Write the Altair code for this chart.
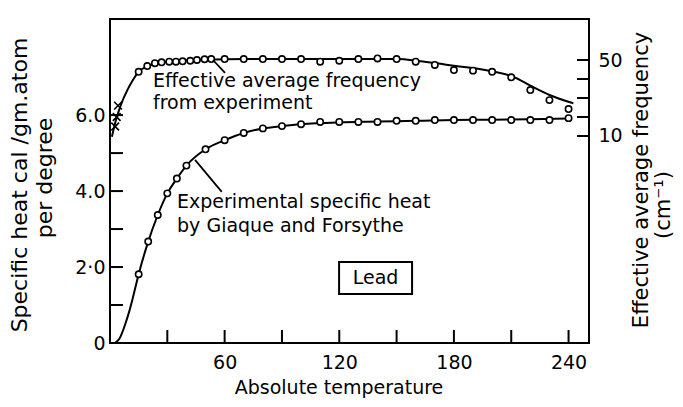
import altair as alt
import pandas as pd

# ---- data ----
# Experimental specific heat (cal / gm.atom / degree) vs absolute temperature
cp_T = [15, 20, 25, 30, 35, 40, 50, 60, 70, 80, 90, 100, 110, 120, 130, 140,
        150, 160, 170, 180, 190, 200, 210, 220, 230, 240]
cp_val = [1.81, 2.67, 3.37, 3.94, 4.33, 4.67, 5.10, 5.34, 5.53, 5.65, 5.71, 5.76,
          5.82, 5.82, 5.82, 5.82, 5.85, 5.85, 5.87, 5.87, 5.87, 5.87, 5.87, 5.87,
          5.87, 5.92]
# smooth curve drawn through the specific-heat points
cpfit_T = [2.5, 5, 8, 10, 12, 15, 20, 25, 30, 35, 40, 50, 60, 70, 80, 90, 100,
           120, 140, 160, 180, 200, 220, 240]
cpfit_val = [0.0, 0.12, 0.5, 0.82, 1.2, 1.81, 2.67, 3.37, 3.94, 4.33, 4.67, 5.10,
             5.34, 5.53, 5.65, 5.71, 5.76, 5.81, 5.83, 5.85, 5.87, 5.88, 5.89, 5.91]

# Effective average frequency (cm^-1) from experiment
fr_T = [15, 19.5, 23.5, 27, 31, 34.5, 38, 42, 45.5, 49.5, 53, 60, 70, 80, 90, 100,
        110, 120, 130, 140, 150, 160, 170, 180, 190, 200, 210, 220, 230, 240]
fr_val = [43.8, 46.8, 48.3, 48.8, 49.1, 49.1, 49.3, 49.6, 50.0, 50.4, 50.5, 50.5,
          50.5, 50.5, 50.5, 50.5, 49.1, 49.6, 50.5, 50.8, 50.5, 49.1, 47.4, 44.7,
          44.4, 43.8, 40.9, 34.2, 28.9, 24.2]
# smooth curve drawn through the frequency points
frfit_T = [1, 3, 6, 9, 12, 15, 20, 25, 30, 40, 50, 60, 80, 100, 120, 140, 151,
           161, 171, 181, 191, 201, 211, 220, 230, 242.5]
frfit_val = [9.6, 18, 27.2, 34, 39.5, 43.8, 46.9, 48.3, 49.1, 49.8, 50.2, 50.4,
             50.5, 50.5, 50.5, 50.5, 50.5, 49.5, 48.3, 46.8, 45.6, 43.8, 41.2,
             36.5, 31.6, 27.2]
# crosses near T = 0
x_T = [4.2, 3.5, 2.7]
x_val = [26, 20, 15]

# axis ticks / labels
left_ticks = [1, 2, 3, 4, 5, 6]
left_labels = [0, 2, 4, 6]
bottom_ticks = [30, 60, 90, 120, 150, 180, 210, 240]
bottom_labels = [60, 120, 180, 240]
right_ticks = [10, 20, 30, 40, 50]
right_labels = [10, 50]

W, H = 479, 324
FONT = "DejaVu Sans"

xscale = alt.Scale(domain=[0, 250.7], nice=False, zero=False)
ylscale = alt.Scale(domain=[0, 8.53], nice=False, zero=False)
yrscale = alt.Scale(domain=[-98.95, 71.58], nice=False, zero=False)

xaxis = alt.Axis(values=bottom_labels, title=None, labelPadding=10, format="d")
ylaxis = alt.Axis(values=left_labels, title=None, labelPadding=5,
                  labelExpr="datum.value == 0 ? '0' : (datum.value == 2 ? '2·0' : format(datum.value, '.1f'))")
yraxis = alt.Axis(values=right_labels, title=None, labelPadding=9, orient="right", format="d")

def X(f="T"):
    return alt.X(f"{f}:Q", scale=xscale, axis=xaxis)

def YL(f):
    return alt.Y(f"{f}:Q", scale=ylscale, axis=ylaxis)

def YR(f):
    return alt.Y(f"{f}:Q", scale=yrscale, axis=yraxis)

df_cp = pd.DataFrame({"T": cp_T, "v": cp_val})
df_cpfit = pd.DataFrame({"T": cpfit_T, "v": cpfit_val})
df_fr = pd.DataFrame({"T": fr_T, "v": fr_val})
df_frfit = pd.DataFrame({"T": frfit_T, "v": frfit_val})
df_x = pd.DataFrame({"T": x_T, "v": x_val})

# ---- left (specific heat) layers ----
cp_line = alt.Chart(df_cpfit).mark_line(color="black", strokeWidth=2, interpolate="monotone").encode(
    x=X(), y=YL("v"))
cp_pts = alt.Chart(df_cp).mark_point(shape="circle", size=40, filled=True, fill="white",
                                     stroke="black", strokeWidth=1.6, opacity=1).encode(x=X(), y=YL("v"))
lt = alt.Chart(pd.DataFrame({"v": left_ticks})).mark_rule(color="black", strokeWidth=2).encode(
    y=YL("v"), x=alt.value(0), x2=alt.value(13))
bt = alt.Chart(pd.DataFrame({"T": bottom_ticks})).mark_rule(color="black", strokeWidth=2).encode(
    x=X(), y=alt.value(H - 13), y2=alt.value(H))

ann = pd.DataFrame({
    "T": [22.5, 22.5, 35.1, 35.1],
    "v": [6.895, 6.33, 3.71, 3.08],
    "t": ["Effective average frequency", "from experiment",
          "Experimental specific heat", "by  Giaque and Forsythe"],
})
ann_txt = alt.Chart(ann).mark_text(align="left", baseline="middle", font=FONT, fontSize=19,
                                   color="black").encode(x=X(), y=YL("v"), text="t:N")
leader_cp = alt.Chart(pd.DataFrame({"T": [44.5], "T2": [58.5], "v": [4.82], "v2": [3.98]})).mark_rule(
    color="black", strokeWidth=1.8).encode(x=X(), x2="T2:Q", y=YL("v"), y2="v2:Q")

box = alt.Chart(pd.DataFrame({"T": [119.9], "T2": [158.1], "v": [2.13], "v2": [1.29]})).mark_rect(
    fillOpacity=0, stroke="black", strokeWidth=2).encode(x=X(), x2="T2:Q", y=YL("v"), y2="v2:Q")
lead = alt.Chart(pd.DataFrame({"T": [139.0], "v": [1.71], "t": ["Lead"]})).mark_text(
    font=FONT, fontSize=19, color="black", align="center", baseline="middle").encode(
    x=X(), y=YL("v"), text="t:N")

titles = pd.DataFrame({
    "t": ["Specific heat cal /gm.atom", "per degree", "Effective average frequency",
          "(cm⁻¹)", "Absolute temperature"],
    "px": [-90, -65, 532, 554, 229],
    "py": [166, 159, 161, 186, 369],
    "ang": [270, 270, 270, 270, 0],
    "fs": [22, 22, 21, 21, 19],
})
title_marks = []
for _, r in titles.iterrows():
    title_marks.append(
        alt.Chart(pd.DataFrame({"t": [r["t"]]})).mark_text(
            font=FONT, fontSize=float(r["fs"]), color="black", align="center", baseline="middle",
            angle=float(r["ang"])).encode(
            x=alt.value(float(r["px"])), y=alt.value(float(r["py"])), text="t:N"))

left = alt.layer(cp_line, cp_pts, lt, bt, ann_txt, leader_cp, box, lead, *title_marks)

# ---- right (frequency) layers ----
fr_line = alt.Chart(df_frfit).mark_line(color="black", strokeWidth=2, interpolate="monotone").encode(
    x=X(), y=YR("v"))
fr_pts = alt.Chart(df_fr).mark_point(shape="circle", size=40, filled=True, fill="white",
                                     stroke="black", strokeWidth=1.6, opacity=1).encode(x=X(), y=YR("v"))
x_pts = alt.Chart(df_x).mark_point(shape="M-1,-1L1,1M-1,1L1,-1", size=60, filled=False,
                                   stroke="black", strokeWidth=1.6, opacity=1).encode(x=X(), y=YR("v"))
rt = alt.Chart(pd.DataFrame({"v": right_ticks})).mark_rule(color="black", strokeWidth=2).encode(
    y=YR("v"), x=alt.value(W - 12), x2=alt.value(W))
leader_fr = alt.Chart(pd.DataFrame({"T": [53.9], "T2": [60.2], "v": [50.0], "v2": [43.2]})).mark_rule(
    color="black", strokeWidth=1.8).encode(x=X(), x2="T2:Q", y=YR("v"), y2="v2:Q")

right = alt.layer(fr_line, fr_pts, x_pts, rt, leader_fr)

chart = alt.layer(left, right).resolve_scale(y="independent").properties(
    width=W, height=H,
    autosize=alt.AutoSizeParams(type="none"),
    padding={"left": 102, "top": 11, "right": 86, "bottom": 56},
).configure_view(stroke="black", strokeWidth=2).configure_axis(
    domain=False, ticks=False, grid=False, labelFont=FONT, labelFontSize=19, labelColor="black"
)

chart.save("out.html", embed_options={"renderer": "svg", "actions": False})
